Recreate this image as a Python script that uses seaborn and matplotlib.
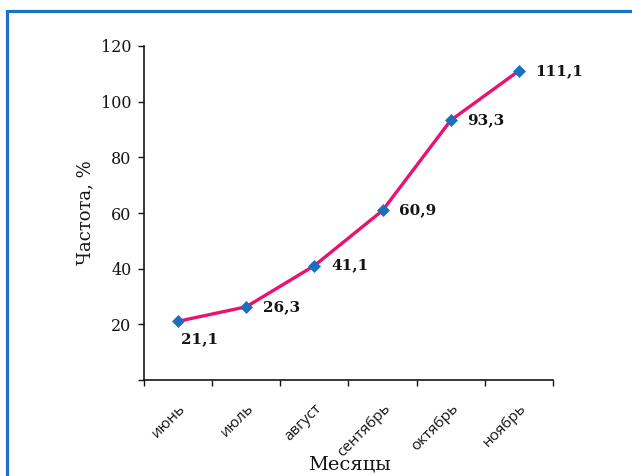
import matplotlib
matplotlib.use("Agg")
import matplotlib.pyplot as plt
from matplotlib.patches import Rectangle
import pandas as pd
import seaborn as sns

months = ["июнь", "июль", "август", "сентябрь", "октябрь", "ноябрь"]
frequency = [21.1, 26.3, 41.1, 60.9, 93.3, 111.1]
value_labels = ["21,1", "26,3", "41,1", "60,9", "93,3", "111,1"]
y_ticks = [0, 20, 40, 60, 80, 100, 120]
y_tick_labels = ["", "20", "40", "60", "80", "100", "120"]

sns.set_theme(style="ticks")
plt.rcParams["font.family"] = ["DejaVu Serif"]

ink = "#141414"

df = pd.DataFrame({"month": months, "freq": frequency})
pos = list(range(len(months)))
df["pos"] = pos

fig = plt.figure(figsize=(6.32, 4.76), dpi=100)
ax = fig.add_axes([144 / 632, 1 - 380 / 476, (553 - 144) / 632, (380 - 46) / 476])

sns.lineplot(data=df, x="pos", y="freq", ax=ax, color="#e8136f", linewidth=2.4,
             marker="D", markersize=6.5, markerfacecolor="#1a6fc0",
             markeredgecolor="#1a6fc0", markeredgewidth=0.5)

ax.set_xlim(-0.5, len(months) - 0.5)
ax.set_ylim(0, 120)
ax.set_yticks(y_ticks)
ax.set_yticklabels(y_tick_labels, fontsize=11.5, color=ink)

# category boundaries as major ticks, names centred on minor ticks
ax.set_xticks([p - 0.5 for p in pos] + [pos[-1] + 0.5])
ax.set_xticklabels([])
ax.set_xticks(pos, minor=True)
ax.set_xticklabels(months, minor=True, rotation=45, ha="right",
                   rotation_mode="anchor", family="Open Sans",
                   fontsize=11, color=ink)
ax.tick_params(axis="x", which="minor", length=0, pad=15)
ax.tick_params(axis="both", which="major", length=4, width=1.0, color=ink)
ax.tick_params(axis="y", pad=5)

sns.despine(ax=ax)
for s in ("left", "bottom"):
    ax.spines[s].set_linewidth(1.2)
    ax.spines[s].set_color(ink)

ax.set_xlabel("Месяцы", fontsize=14, color=ink)
ax.set_ylabel("Частота, %", fontsize=13, color=ink)
ax.xaxis.set_label_coords((349 - 144) / (553 - 144), -(465 - 380) / (380 - 46))
ax.yaxis.set_label_coords(-(144 - 85) / (553 - 144), 0.5)
ax.xaxis.label.set_va("center")
ax.yaxis.label.set_va("center")

for i, (v, t) in enumerate(zip(frequency, value_labels)):
    if i == 0:
        ax.annotate(t, (i, v), xytext=(2, -13), textcoords="offset points",
                    ha="left", va="center", fontsize=11, fontweight="bold",
                    color=ink)
    else:
        ax.annotate(t, (i, v), xytext=(12, 0), textcoords="offset points",
                    ha="left", va="center", fontsize=11, fontweight="bold",
                    color=ink)

# blue frame around the figure
fig.patches.append(Rectangle((6.5 / 632, -0.1), 1.2, 1.1 - 11 / 476,
                             transform=fig.transFigure, fill=False,
                             edgecolor="#1a72c2", linewidth=2.3))

fig.savefig("out.png", dpi=100)
